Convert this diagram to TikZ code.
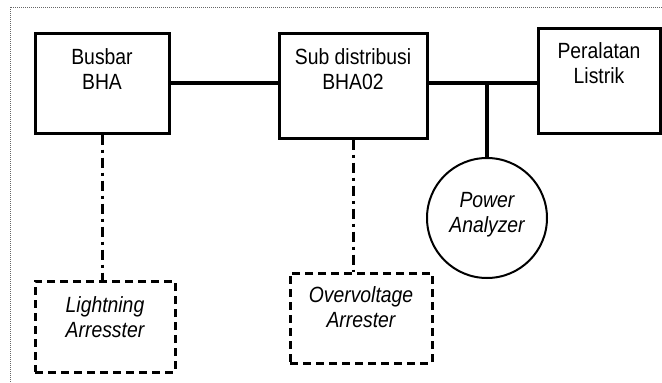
\documentclass[tikz,border=0pt]{standalone}
\usepackage{fontspec}
\setmainfont[FakeStretch=0.88]{Liberation Sans}
\begin{document}
\begin{tikzpicture}[x=1pt,y=-1pt,
  box/.style={draw,line width=3pt,rectangle,inner sep=0pt},
  dbox/.style={draw,line width=3pt,rectangle,inner sep=0pt,dash pattern=on 8pt off 5pt},
  wire/.style={line width=4pt},
  ddot/.style={line width=3pt,dash pattern=on 10pt off 5pt on 3pt off 5pt},
  lbl/.style={inner sep=0pt,anchor=base,font=\fontsize{22}{25}\selectfont},
  ilbl/.style={lbl,font=\fontsize{22}{25}\selectfont\itshape}]
\useasboundingbox (0,0) rectangle (662,383);
\begin{scope}
\clip (0,0) rectangle (662,383);
\draw[gray!80!black,line width=1pt,dash pattern=on 1pt off 1pt] (10,7) rectangle (700,420);
\end{scope}
% boxes
\node[box,minimum width=134pt,minimum height=100pt] (busbar) at (102,83) {};
\node[box,minimum width=148pt,minimum height=105pt] (sub) at (353,85.5) {};
\node[box,minimum width=122pt,minimum height=105pt] (per) at (599,80.5) {};
\node[draw,circle,line width=2pt,minimum size=120pt,inner sep=0pt] (pa) at (487,218) {};
\node[dbox,minimum width=140pt,minimum height=91pt] (la) at (105,326.5) {};
\node[dbox,minimum width=142pt,minimum height=90pt] (oa) at (361,318) {};
% texts
\node[lbl] (t1) at (102,64) {Busbar};
\node[lbl] (t2) at (102,89) {BHA};
\node[lbl] (t3) at (353,64) {Sub distribusi};
\node[lbl] (t4) at (353,89) {BHA02};
\node[lbl] (t5) at (599,58) {Peralatan};
\node[lbl] (t6) at (599,83) {Listrik};
\node[ilbl] (t7) at (487,207) {Power};
\node[ilbl] (t8) at (487,232) {Analyzer};
\node[ilbl] (t9) at (105,312) {Lightning};
\node[ilbl] (t10) at (105,337) {Arresster};
\node[ilbl] (t11) at (361,302) {Overvoltage};
\node[ilbl] (t12) at (361,327) {Arrester};
% connectors
\coordinate (j) at (487,83);
\draw[wire] (busbar.east) -- (sub.west |- busbar.east);
\draw[wire] (sub.east |- j) -- (j) -- (per.west |- j);
\draw[wire] (j) -- (pa.north);
\draw[ddot] (busbar.south) -- (busbar.south |- la.north);
\draw[ddot] (sub.south) -- (sub.south |- oa.north);
\end{tikzpicture}
\end{document}
